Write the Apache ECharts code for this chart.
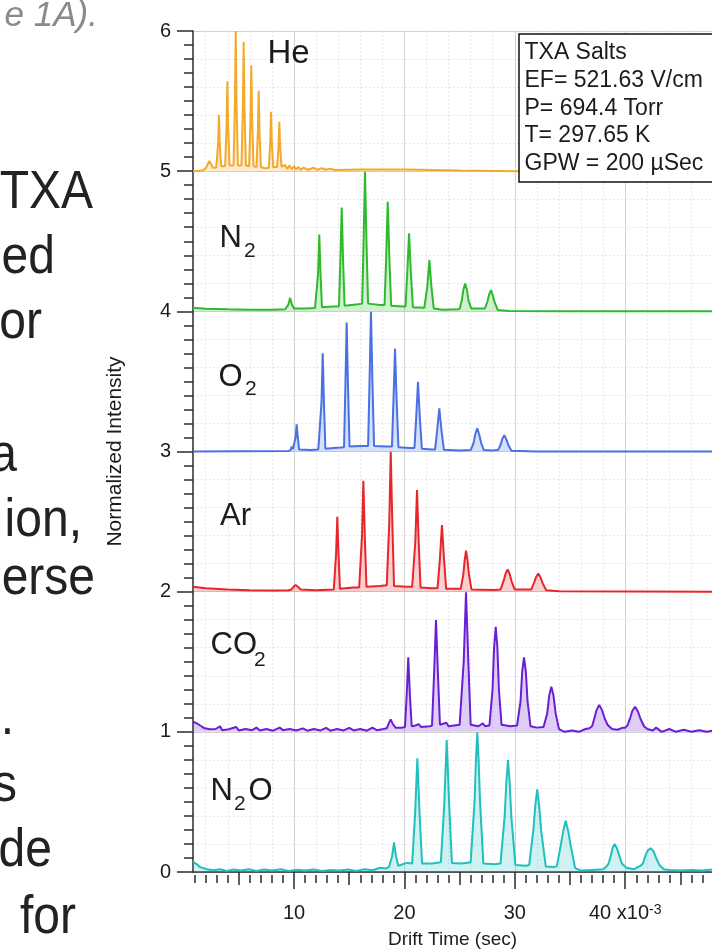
<!DOCTYPE html>
<html>
<head>
<meta charset="utf-8">
<script src="https://cdn.jsdelivr.net/npm/echarts@6/dist/echarts.min.js"></script>
<style>
  html, body { margin: 0; padding: 0; background: #fff; }
  #chart { width: 712px; height: 949px; }
</style>
</head>
<body>
<div id="chart"></div>
<script>
// drift time (x10^-3 s) and normalized intensity above each trace's own baseline,
// read off the figure point by point
var heTrace = [
  [0.85, 0.0], [1.7, 0.004], [2.0, 0.02], [2.33, 0.073], [2.65, 0.025], [2.95, 0.025],
  [3.0, 0.03], [3.13, 0.2], [3.2, 0.4], [3.27, 0.2], [3.4, 0.035],
  [3.76, 0.035], [3.89, 0.32], [3.96, 0.642], [4.03, 0.32], [4.16, 0.04],
  [4.52, 0.04], [4.65, 0.5], [4.72, 1.0], [4.79, 0.5], [4.92, 0.04],
  [5.24, 0.04], [5.37, 0.46], [5.44, 0.922], [5.51, 0.46], [5.64, 0.04],
  [5.93, 0.035], [6.06, 0.38], [6.13, 0.756], [6.2, 0.38], [6.33, 0.035],
  [6.6, 0.03], [6.73, 0.29], [6.8, 0.573], [6.87, 0.29], [7.0, 0.03],
  [7.35, 0.02], [7.72, 0.025], [7.85, 0.21], [7.92, 0.423], [7.99, 0.21], [8.12, 0.03],
  [8.3, 0.025], [8.47, 0.03], [8.6, 0.18], [8.67, 0.352], [8.74, 0.18], [8.87, 0.03],
  [8.98, 0.02], [9.18, 0.045], [9.38, 0.015], [9.57, 0.04], [9.78, 0.015], [10.0, 0.035],
  [10.2, 0.012], [10.39, 0.03], [10.6, 0.01], [10.84, 0.025], [11.3, 0.01], [11.75, 0.025],
  [12.1, 0.01], [12.5, 0.022], [12.9, 0.01], [13.26, 0.018], [13.7, 0.008],
  [16, 0.012], [20, 0.012], [25, 0.005], [30, 0.0], [48.8, 0.0]
];
var n2Trace = [
  [0.85, 0.025], [2, 0.018], [4, 0.014], [6, 0.012], [8, 0.012], [9.2, 0.015],
  [9.35, 0.02], [9.5, 0.05], [9.64, 0.096], [9.8, 0.05], [10.0, 0.02],
  [11.0, 0.02], [11.9, 0.024],
  [12.07, 0.026], [12.18, 0.27], [12.29, 0.548], [12.4, 0.27], [12.53, 0.03],
  [13.5, 0.035], [14.07, 0.037], [14.2, 0.37], [14.32, 0.741], [14.44, 0.37], [14.58, 0.04],
  [15.8, 0.05], [16.17, 0.055], [16.3, 0.5], [16.43, 0.995], [16.56, 0.5], [16.71, 0.055],
  [17.8, 0.045], [18.2, 0.045], [18.35, 0.39], [18.49, 0.781], [18.63, 0.39], [18.8, 0.04],
  [19.9, 0.035], [20.1, 0.035], [20.26, 0.28], [20.42, 0.556], [20.58, 0.28], [20.77, 0.03],
  [21.8, 0.025], [21.9, 0.025], [22.08, 0.18], [22.26, 0.365], [22.44, 0.18], [22.66, 0.02],
  [23.5, 0.012], [24.8, 0.015],
  [25.0, 0.016], [25.2, 0.08], [25.33, 0.15], [25.5, 0.199], [25.67, 0.15], [25.8, 0.08], [26.05, 0.02],
  [26.8, 0.02], [27.29, 0.02], [27.52, 0.07], [27.67, 0.12], [27.84, 0.151], [28.02, 0.11], [28.17, 0.065], [28.45, 0.01],
  [29.5, 0.003], [35, 0.0], [48.8, 0.0]
];
var o2Trace = [
  [0.85, 0.0], [5, 0.002], [9.5, 0.004], [9.7, 0.01], [9.79, 0.035], [9.9, 0.018],
  [10.04, 0.022], [10.14, 0.1], [10.24, 0.193], [10.34, 0.1], [10.46, 0.015],
  [11.5, 0.01], [12.2, 0.015],
  [12.38, 0.015], [12.49, 0.35], [12.6, 0.70], [12.71, 0.35], [12.84, 0.02],
  [13.6, 0.025], [14.2, 0.028],
  [14.53, 0.03], [14.65, 0.46], [14.77, 0.921], [14.89, 0.46], [15.03, 0.035],
  [16.0, 0.04], [16.5, 0.04],
  [16.71, 0.04], [16.84, 0.5], [16.97, 0.996], [17.1, 0.5], [17.25, 0.04],
  [18.3, 0.035], [18.87, 0.035], [19.01, 0.37], [19.15, 0.733], [19.29, 0.37], [19.46, 0.03],
  [20.5, 0.025], [20.91, 0.025], [21.07, 0.25], [21.23, 0.497], [21.39, 0.25], [21.58, 0.02],
  [22.5, 0.015], [22.78, 0.015], [22.97, 0.155], [23.16, 0.307], [23.35, 0.155], [23.58, 0.012],
  [25, 0.008], [26.0, 0.01],
  [26.05, 0.012], [26.26, 0.06], [26.42, 0.125], [26.6, 0.165], [26.78, 0.12], [26.95, 0.06], [27.2, 0.01],
  [28.0, 0.008], [28.5, 0.012], [28.72, 0.05], [28.87, 0.09], [29.05, 0.117], [29.24, 0.085], [29.42, 0.045], [29.7, 0.006],
  [32, 0.0], [48.8, 0.0]
];
var arTrace = [
  [0.85, 0.035], [2, 0.025], [4, 0.015], [6, 0.01], [8, 0.008], [9.5, 0.01],
  [9.75, 0.015], [9.95, 0.035], [10.15, 0.047], [10.35, 0.035], [10.6, 0.015],
  [12, 0.01], [13.6, 0.015],
  [13.7, 0.016], [13.81, 0.27], [13.92, 0.534], [14.03, 0.27], [14.16, 0.02],
  [15.4, 0.03], [15.9, 0.03],
  [16.03, 0.03], [16.16, 0.4], [16.28, 0.791], [16.41, 0.4], [16.56, 0.035],
  [17.8, 0.04], [18.4, 0.045],
  [18.49, 0.045], [18.63, 0.5], [18.76, 0.998], [18.9, 0.5], [19.06, 0.04],
  [20.2, 0.035], [20.7, 0.035],
  [20.84, 0.035], [20.99, 0.36], [21.14, 0.725], [21.29, 0.36], [21.46, 0.03],
  [22.5, 0.025], [23.0, 0.025],
  [23.05, 0.025], [23.22, 0.24], [23.4, 0.475], [23.58, 0.24], [23.78, 0.02],
  [24.8, 0.02], [25.1, 0.02],
  [25.13, 0.02], [25.33, 0.12], [25.45, 0.22], [25.58, 0.292], [25.72, 0.22], [25.85, 0.12], [26.08, 0.015],
  [28.2, 0.012], [28.7, 0.015],
  [28.75, 0.015], [29.0, 0.08], [29.17, 0.13], [29.35, 0.159], [29.54, 0.125], [29.72, 0.07], [30.0, 0.015],
  [31.1, 0.015], [31.48, 0.015], [31.75, 0.065], [31.93, 0.105], [32.13, 0.13], [32.33, 0.1], [32.55, 0.055], [32.85, 0.01],
  [34, 0.003], [48.8, 0.0]
];
var co2Trace = [
  [0.85, 0.072], [1.2, 0.06], [1.5, 0.045], [1.9, 0.025], [2.4, 0.018], [2.9, 0.02], [3.3, 0.04], [3.5, 0.012],
  [4.1, 0.018], [4.75, 0.035], [5.0, 0.01], [5.6, 0.02], [6.2, 0.012], [6.6, 0.03], [6.9, 0.01], [7.5, 0.02],
  [8.1, 0.008], [8.7, 0.03], [9.0, 0.012], [9.6, 0.02], [10.2, 0.01], [10.8, 0.025], [11.2, 0.008], [11.8, 0.02],
  [12.4, 0.01], [12.9, 0.028], [13.3, 0.008], [13.9, 0.02], [14.5, 0.01], [15.0, 0.028], [15.4, 0.01], [16.0, 0.02],
  [16.6, 0.008], [17.1, 0.03], [17.5, 0.012], [18.1, 0.02],
  [18.4, 0.025], [18.58, 0.06], [18.76, 0.089], [18.95, 0.055], [19.2, 0.03],
  [19.8, 0.03], [20.05, 0.035], [20.21, 0.27], [20.35, 0.531], [20.49, 0.27], [20.66, 0.04],
  [21.0, 0.045], [21.3, 0.055], [21.5, 0.035], [22.3, 0.04],
  [22.5, 0.045], [22.68, 0.4], [22.86, 0.797], [23.04, 0.4], [23.22, 0.05],
  [23.8, 0.065], [24.0, 0.04], [25.0, 0.05],
  [25.16, 0.055], [25.37, 0.5], [25.58, 0.995], [25.79, 0.5], [26.0, 0.05],
  [26.7, 0.04], [27.1, 0.06], [27.3, 0.04], [27.7, 0.045],
  [27.77, 0.05], [27.98, 0.3], [28.12, 0.6], [28.27, 0.75], [28.42, 0.6], [28.56, 0.3], [28.8, 0.05],
  [29.6, 0.04], [30.2, 0.045],
  [30.28, 0.045], [30.52, 0.22], [30.67, 0.43], [30.83, 0.531], [31.0, 0.43], [31.15, 0.22], [31.42, 0.04],
  [32.0, 0.03], [32.6, 0.035],
  [32.66, 0.035], [32.93, 0.13], [33.12, 0.26], [33.31, 0.322], [33.5, 0.26], [33.7, 0.13], [34.0, 0.02],
  [34.5, 0.0], [35.2, 0.01], [35.8, 0.0], [36.4, 0.02], [36.75, 0.025],
  [37.0, 0.04], [37.2, 0.095], [37.4, 0.155], [37.65, 0.191], [37.9, 0.155], [38.12, 0.1], [38.4, 0.05], [38.8, 0.02],
  [39.3, 0.015], [39.8, 0.03], [40.0, 0.03],
  [40.2, 0.045], [40.45, 0.1], [40.65, 0.15], [40.89, 0.179], [41.15, 0.145], [41.4, 0.09], [41.7, 0.04], [42.0, 0.02],
  [42.5, 0.01], [42.8, 0.03], [43.3, 0.0], [44, 0.02], [44.6, 0.0], [45.3, 0.015], [46, 0.0], [46.7, 0.012],
  [47.4, 0.0], [48, 0.01], [48.8, 0.005]
];
var n2oTrace = [
  [0.85, 0.074], [1.1, 0.06], [1.5, 0.035], [2.1, 0.02], [2.7, 0.012], [3.3, 0.02], [3.9, 0.008], [4.5, 0.018],
  [5.2, 0.01], [5.9, 0.02], [6.6, 0.008], [7.3, 0.018], [8.0, 0.01], [8.8, 0.02], [9.5, 0.008], [10.3, 0.016],
  [11.0, 0.01], [11.8, 0.018], [12.5, 0.008], [13.3, 0.015], [14.1, 0.01], [14.9, 0.018], [15.6, 0.008], [16.4, 0.02],
  [17.1, 0.012], [17.8, 0.03], [18.3, 0.025], [18.6, 0.035],
  [18.7, 0.04], [18.88, 0.11], [19.06, 0.212], [19.24, 0.11], [19.45, 0.045],
  [20.0, 0.06], [20.3, 0.065], [20.7, 0.06],
  [20.75, 0.062], [20.97, 0.42], [21.17, 0.811], [21.37, 0.42], [21.6, 0.06],
  [22.5, 0.06], [23.3, 0.07],
  [23.35, 0.072], [23.6, 0.47], [23.83, 0.942], [24.06, 0.47], [24.3, 0.065],
  [25.2, 0.06], [26.0, 0.07],
  [26.05, 0.072], [26.35, 0.5], [26.48, 0.8], [26.6, 0.997], [26.72, 0.8], [26.85, 0.5], [27.15, 0.06],
  [28.2, 0.055], [28.7, 0.06],
  [28.75, 0.06], [29.08, 0.4], [29.23, 0.64], [29.38, 0.799], [29.53, 0.64], [29.68, 0.4], [30.05, 0.05],
  [31.0, 0.045], [31.3, 0.05],
  [31.32, 0.05], [31.68, 0.3], [31.85, 0.47], [32.03, 0.59], [32.21, 0.47], [32.38, 0.3], [32.8, 0.04],
  [33.5, 0.035], [33.8, 0.04],
  [33.85, 0.04], [34.16, 0.19], [34.38, 0.29], [34.61, 0.366], [34.84, 0.29], [35.06, 0.19], [35.45, 0.03],
  [36.0, 0.01], [37, 0.015], [38.0, 0.02], [38.3, 0.04],
  [38.5, 0.06], [38.7, 0.12], [38.85, 0.17], [39.04, 0.20], [39.25, 0.17], [39.45, 0.12], [39.7, 0.06], [40.1, 0.03],
  [40.8, 0.02], [41.4, 0.045],
  [41.6, 0.06], [41.85, 0.12], [42.05, 0.155], [42.3, 0.169], [42.55, 0.15], [42.8, 0.1], [43.1, 0.05], [43.5, 0.02],
  [44, 0.015], [45, 0.01], [46, 0.015], [47, 0.01], [48, 0.02], [48.8, 0.015]
];

var gasTraces = [heTrace, n2Trace, o2Trace, arTrace, co2Trace, n2oTrace];
var gasNames = ['He', 'N2', 'O2', 'Ar', 'CO2', 'N2O'];
var gasOffsets = [5, 4, 3, 2, 1, 0];

// tick values
var xMajorTicks = [10, 20, 30, 40];
var xMidTicks = [5, 15, 25, 35, 45];
var xMinorTicks = [1, 2, 3, 4, 6, 7, 8, 9, 11, 12, 13, 14, 16, 17, 18, 19, 21, 22, 23, 24,
  26, 27, 28, 29, 31, 32, 33, 34, 36, 37, 38, 39, 41, 42, 43, 44, 46, 47];

var infoLines = ['TXA Salts', 'EF= 521.63 V/cm', 'P= 694.4 Torr', 'T= 297.65 K', 'GPW = 200 \u00b5Sec'];
var bodyLines = ['TXA', 'ed', 'or', 'a', 'ion,', 'erse', '.', 's', 'de', 'for'];

var FONT = '"Liberation Sans", Arial, Helvetica, sans-serif';
var colors = ['#f4a92a', '#2dbb2d', '#4a70e4', '#e6262b', '#6a1fd6', '#22bfbf'];
var INK = '#1c1c1c';
var MID = 0.3465; // 'middle' baseline offset, in em

var chart = echarts.init(document.getElementById('chart'));

var series = gasTraces.map(function (tr, i) {
  return {
    name: gasNames[i],
    type: 'line',
    symbol: 'none',
    xAxisIndex: 0,
    yAxisIndex: 0,
    z: 3 + i,
    data: tr.map(function (p) { return [p[0], p[1] + gasOffsets[i]]; }),
    lineStyle: { color: colors[i], width: 2 },
    itemStyle: { color: colors[i] },
    areaStyle: { color: colors[i], opacity: 0.22, origin: gasOffsets[i] }
  };
});

// text helper, y given as baseline
function txt(x, base, s, size, extra) {
  var scaleY = (extra && extra.scaleY) || 1;
  var st = {
    text: s,
    fontSize: size,
    fontFamily: FONT,
    fontStyle: (extra && extra.italic) ? 'italic' : 'normal',
    fill: (extra && extra.color) || INK,
    align: (extra && extra.align) || 'left',
    textAlign: (extra && extra.align) || 'left',
    verticalAlign: 'middle',
    textVerticalAlign: 'middle'
  };
  return {
    type: 'text', z: 100,
    x: x, y: base - MID * size * scaleY,
    scaleY: scaleY,
    style: st
  };
}

var graphics = [];

// cut-off body text at the left of the figure
graphics.push(txt(98, 28, 'e 1A).', 35, { italic: true, color: '#8a8a8a', align: 'right' }));
var bodyRight = [93, 55, 42, 17, 82, 95, 14, 17, 52, 76];
var bodyBase = [212, 277, 342, 475, 540, 598, 738, 805, 870, 937];
bodyLines.forEach(function (s, i) {
  graphics.push(txt(bodyRight[i], bodyBase[i], s, 48, { align: 'right', scaleY: 1.1, color: '#222' }));
});

// trace labels
graphics.push(txt(267.5, 65, 'He', 33));
graphics.push(txt(219.6, 249, 'N', 31));
graphics.push(txt(244, 258, '2', 21));
graphics.push(txt(218.5, 388, 'O', 31));
graphics.push(txt(245, 396, '2', 21));
graphics.push(txt(220, 527, 'Ar', 31));
graphics.push(txt(210.5, 656, 'CO', 31));
graphics.push(txt(254, 667, '2', 21));
graphics.push(txt(210.5, 802, 'N', 31));
graphics.push(txt(234, 811, '2', 21));
graphics.push(txt(248.5, 802, 'O', 31));

// info box
graphics.push({
  type: 'rect', z: 99,
  shape: { x: 519, y: 34, width: 240, height: 148 },
  style: { fill: '#fff', stroke: '#111', lineWidth: 1.5 }
});
var infoBase = [61, 89, 117, 144, 172];
infoLines.forEach(function (s, i) {
  graphics.push(txt(524.5, infoBase[i], s, 23));
});

var xMin = 0.85, xMax = 47.86;
var axisCol = '#2b2b2b';

var option = {
  animation: false,
  backgroundColor: '#ffffff',
  textStyle: { fontFamily: FONT },
  grid: { left: 193, top: 31, right: 0, bottom: 77, containLabel: false, outerBoundsMode: 'none' },
  xAxis: [
    {
      type: 'value', min: xMin, max: xMax, position: 'bottom', offset: 3,
      name: 'Drift Time (sec)', nameLocation: 'middle', nameGap: 55,
      nameTextStyle: { fontSize: 19, color: INK, fontFamily: FONT },
      axisLine: { lineStyle: { color: axisCol, width: 1.5 } },
      axisTick: { customValues: xMajorTicks, length: 17, lineStyle: { color: axisCol, width: 1.5 } },
      axisLabel: {
        customValues: xMajorTicks, margin: 28, fontSize: 20, color: INK, fontFamily: FONT,
        formatter: function (v) { return v === 40 ? '40 x10{sup|-3}' : String(v); },
        rich: { sup: { fontSize: 14, color: INK, fontFamily: FONT, verticalAlign: 'top' } }
      },
      splitLine: { show: true, lineStyle: { color: '#d2d2d2', width: 1 } },
      minorTick: { show: false, splitNumber: 5 },
      minorSplitLine: { show: true, lineStyle: { color: '#e0e0e0', width: 1, type: [1.5, 2.5] } }
    },
    {
      type: 'value', min: xMin, max: xMax, position: 'bottom', offset: 3,
      axisLine: { show: false },
      axisTick: { customValues: xMidTicks, length: 13, lineStyle: { color: axisCol, width: 1.5 } },
      axisLabel: { show: false },
      splitLine: { show: false }
    },
    {
      type: 'value', min: xMin, max: xMax, position: 'bottom', offset: 3,
      axisLine: { show: false },
      axisTick: { customValues: xMinorTicks, length: 8, lineStyle: { color: axisCol, width: 1.5 } },
      axisLabel: { show: false },
      splitLine: { show: false }
    }
  ],
  yAxis: [
    {
      type: 'value', min: 0, max: 6, interval: 1, position: 'left',
      name: 'Normalized Intensity', nameLocation: 'middle', nameGap: 67,
      nameTextStyle: { fontSize: 21, color: INK, fontFamily: FONT },
      axisLine: { show: true, lineStyle: { color: axisCol, width: 1.5 } },
      axisTick: { show: true, length: 16, lineStyle: { color: axisCol, width: 1.5 } },
      minorTick: { show: true, splitNumber: 10, length: 9, lineStyle: { color: axisCol, width: 1.5 } },
      axisLabel: { fontSize: 20, color: INK, margin: 22, fontFamily: FONT },
      splitLine: { show: true, lineStyle: { color: '#d2d2d2', width: 1 } }
    },
    {
      type: 'value', min: 0, max: 6, interval: 1, position: 'left',
      axisLine: { show: false }, axisTick: { show: false }, axisLabel: { show: false },
      splitLine: { show: false },
      minorTick: { show: false, splitNumber: 5 },
      minorSplitLine: { show: true, lineStyle: { color: '#e0e0e0', width: 1, type: [1.5, 2.5] } }
    }
  ],
  series: series,
  graphic: { elements: graphics }
};

chart.setOption(option);
</script>
</body>
</html>
